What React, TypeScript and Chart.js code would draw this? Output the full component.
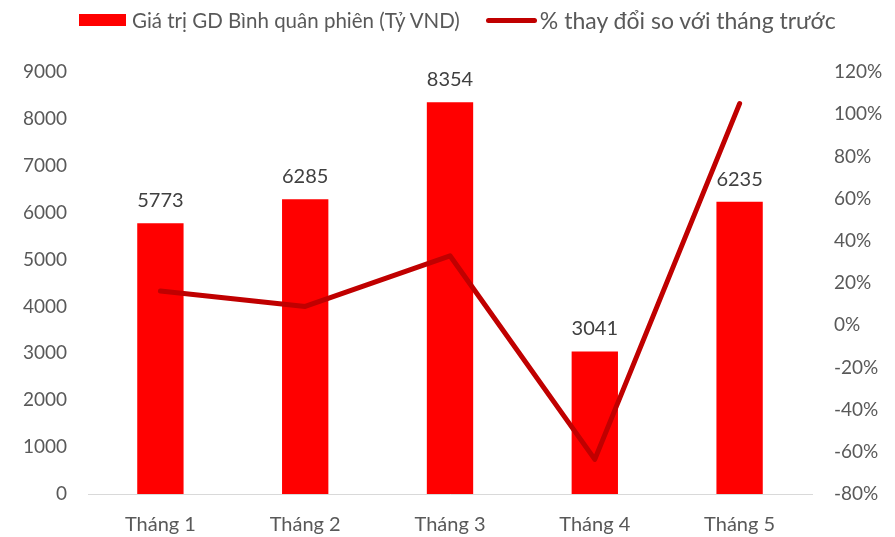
import React, { useEffect, useRef } from "react";
import { Chart, registerables } from "chart.js";

Chart.register(...registerables);

const categories = ["Tháng 1", "Tháng 2", "Tháng 3", "Tháng 4", "Tháng 5"];
const tradingValues = [5773, 6285, 8354, 3041, 6235];
const pctChange = [16.2, 8.9, 32.9, -63.6, 105];
const barLabel = "Giá trị GD Bình quân phiên (Tỷ VND)";
const lineLabel = "% thay đổi so với tháng trước";

const TICK_FONT = "Lato, 'Open Sans', sans-serif";

const barValueLabels = {
  id: "barValueLabels",
  afterDatasetsDraw(chart: any) {
    const ctx = chart.ctx;
    const meta = chart.getDatasetMeta(0);
    ctx.save();
    ctx.font = "20px " + TICK_FONT;
    ctx.fillStyle = "#404040";
    ctx.textAlign = "center";
    ctx.textBaseline = "alphabetic";
    meta.data.forEach((el: any, i: number) => {
      ctx.fillText(String(tradingValues[i]), el.x, el.y - 16);
    });
    ctx.restore();
  },
};

export default function App() {
  const ref = useRef<HTMLCanvasElement | null>(null);
  useEffect(() => {
    if (!ref.current) return;
    const chart = new Chart(ref.current, {
      type: "bar",
      data: {
        labels: categories,
        datasets: [
          {
            type: "bar",
            label: barLabel,
            data: tradingValues,
            backgroundColor: "#FF0000",
            yAxisID: "y",
            order: 2,
            barPercentage: 0.64,
            categoryPercentage: 0.5,
          },
          {
            type: "line",
            label: lineLabel,
            data: pctChange,
            borderColor: "#C00000",
            backgroundColor: "#C00000",
            borderWidth: 5,
            pointRadius: 0,
            borderCapStyle: "round",
            borderJoinStyle: "round",
            tension: 0,
            yAxisID: "y1",
            order: 1,
          },
        ],
      },
      options: {
        responsive: false,
        animation: false,
        layout: { padding: { top: 72, left: 0, right: 0, bottom: 0 } },
        plugins: {
          legend: { display: false },
          tooltip: { enabled: false },
        },
        scales: {
          x: {
            grid: { display: false, drawTicks: false },
            border: { display: true, color: "#D9D9D9", width: 1 },
            ticks: {
              color: "#595959",
              font: { family: TICK_FONT, size: 20 },
              padding: 19,
            },
            afterFit: (s: any) => {
              s.height = 43;
            },
          },
          y: {
            position: "left",
            min: 0,
            max: 9000,
            grid: { display: false, drawTicks: false },
            border: { display: false },
            ticks: {
              stepSize: 1000,
              color: "#595959",
              font: { family: TICK_FONT, size: 19 },
              padding: 21,
              callback: (v: any) => String(v),
            },
            afterFit: (s: any) => {
              s.width = 88;
            },
          },
          y1: {
            position: "right",
            min: -80,
            max: 120,
            grid: { display: false, drawTicks: false },
            border: { display: false },
            ticks: {
              stepSize: 20,
              color: "#595959",
              font: { family: TICK_FONT, size: 19 },
              padding: 22,
              callback: (v: any) => v + "%",
            },
            afterFit: (s: any) => {
              s.width = 83;
            },
          },
        },
      },
      plugins: [barValueLabels],
    });
    return () => chart.destroy();
  }, []);

  return (
    <div style={{ position: "fixed", left: 0, top: 0, width: 895, height: 537, background: "#fff" }}>
      <canvas ref={ref} width={895} height={537} style={{ position: "absolute", left: 0, top: 0 }} />
      <div
        style={{
          position: "absolute",
          left: 79,
          top: 7,
          height: 26,
          display: "flex",
          alignItems: "center",
          fontFamily: TICK_FONT,
          color: "#595959",
          whiteSpace: "nowrap",
        }}
      >
        <span style={{ display: "inline-block", width: 47, height: 12, background: "#FF0000", marginRight: 6 }} />
        <span style={{ fontSize: 20.5 }}>{barLabel}</span>
        <span
          style={{
            display: "inline-block",
            width: 51,
            height: 5,
            borderRadius: 3,
            background: "#C00000",
            marginLeft: 26,
            marginRight: 3,
          }}
        />
        <span style={{ fontSize: 23 }}>{lineLabel}</span>
      </div>
    </div>
  );
}
